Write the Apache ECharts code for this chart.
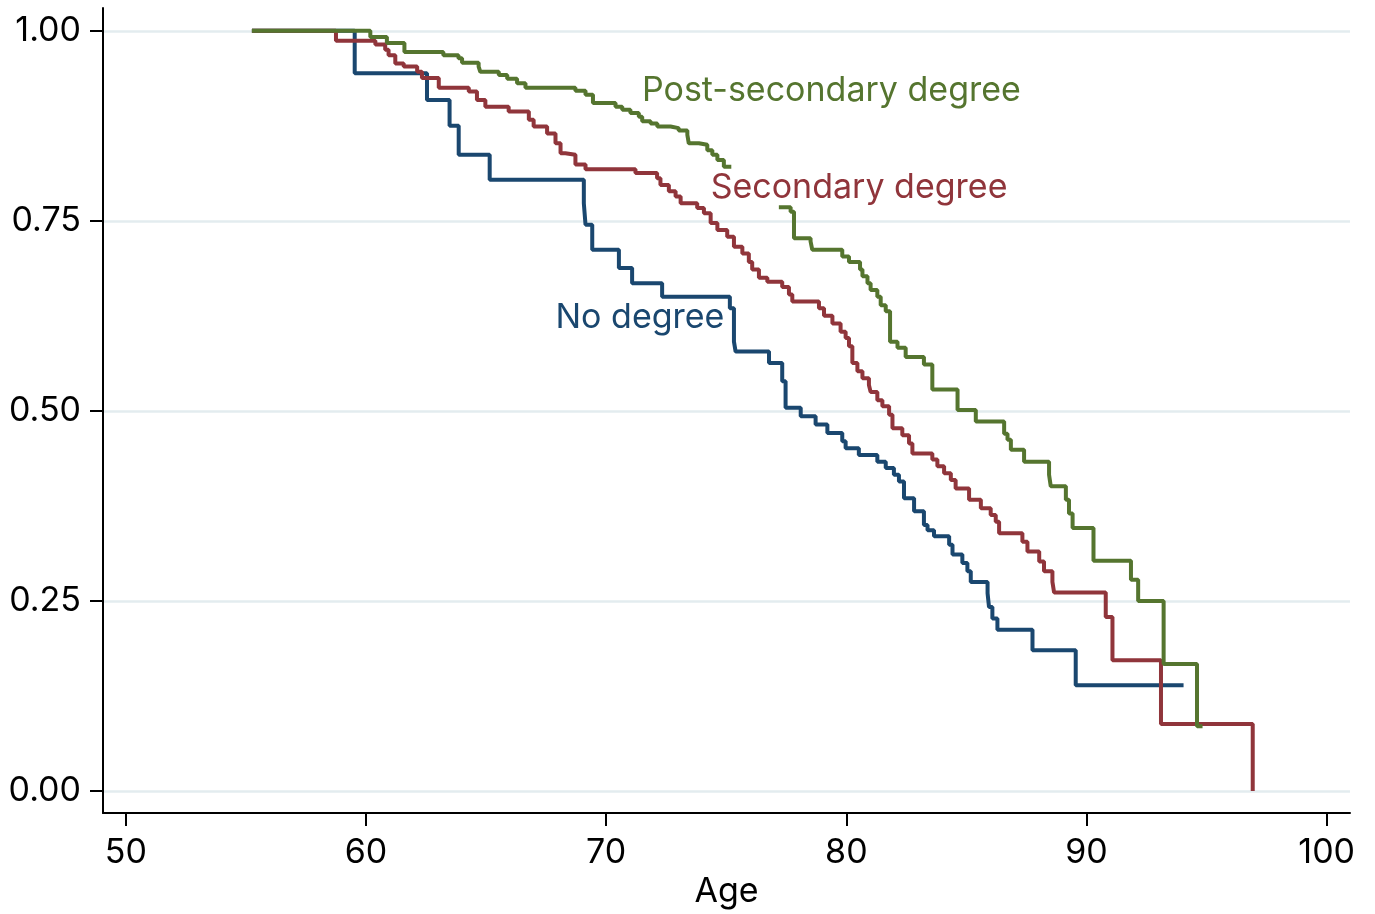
<!DOCTYPE html>
<html>
<head>
<meta charset="utf-8">
<script src="https://cdn.jsdelivr.net/npm/echarts@6/dist/echarts.min.js"></script>
<style>
  html, body { margin: 0; padding: 0; background: #fff; }
  #chart { width: 1375px; height: 914px; }
</style>
</head>
<body>
<div id="chart"></div>
<script>
// Kaplan-Meier curves: [age, survival] at each drop
const noDegree = [
  [55.25, 1.0], [59.53, 0.944], [62.54, 0.909], [63.48, 0.875], [63.86, 0.837],
  [65.15, 0.804], [69.07, 0.773], [69.14, 0.745], [69.42, 0.712], [70.53, 0.688],
  [71.08, 0.668], [72.33, 0.650], [75.15, 0.635], [75.32, 0.591], [75.39, 0.578],
  [76.78, 0.563], [77.33, 0.539], [77.47, 0.504], [78.10, 0.493], [78.72, 0.482],
  [79.21, 0.471], [79.83, 0.460], [79.97, 0.451], [80.52, 0.442], [81.29, 0.433],
  [81.64, 0.425], [81.98, 0.416], [82.19, 0.407], [82.40, 0.385], [82.82, 0.368],
  [83.23, 0.350], [83.38, 0.343], [83.65, 0.335], [84.28, 0.324], [84.42, 0.311],
  [84.83, 0.300], [85.04, 0.289], [85.18, 0.275], [85.88, 0.260], [85.94, 0.242],
  [86.08, 0.227], [86.29, 0.212], [87.75, 0.185], [89.55, 0.139], [94.04, 0.139]
];

const secondary = [
  [55.25, 1.0], [58.75, 0.987], [60.39, 0.982], [60.80, 0.975], [60.94, 0.968],
  [61.22, 0.957], [61.57, 0.953], [62.13, 0.946], [62.33, 0.938], [63.03, 0.925],
  [64.28, 0.920], [64.62, 0.909], [64.97, 0.900], [65.94, 0.894], [66.78, 0.883],
  [66.98, 0.874], [67.54, 0.865], [67.89, 0.852], [68.10, 0.839], [68.30, 0.837],
  [68.72, 0.824], [69.14, 0.818], [71.22, 0.813], [72.12, 0.806], [72.26, 0.797],
  [72.61, 0.789], [72.89, 0.782], [73.10, 0.773], [73.79, 0.767], [74.07, 0.760],
  [74.35, 0.747], [74.63, 0.738], [75.04, 0.729], [75.32, 0.716], [75.67, 0.707],
  [75.94, 0.696], [76.08, 0.686], [76.36, 0.675], [76.71, 0.670], [77.33, 0.663],
  [77.61, 0.653], [77.75, 0.644], [78.86, 0.635], [79.07, 0.625], [79.42, 0.615],
  [79.76, 0.604], [79.97, 0.596], [80.11, 0.585], [80.25, 0.563], [80.46, 0.552],
  [80.67, 0.543], [80.94, 0.534], [81.01, 0.525], [81.29, 0.514], [81.50, 0.506],
  [81.78, 0.495], [81.92, 0.477], [82.33, 0.468], [82.61, 0.457], [82.75, 0.444],
  [83.58, 0.436], [83.79, 0.427], [84.07, 0.418], [84.35, 0.409], [84.55, 0.398],
  [85.11, 0.383], [85.60, 0.372], [86.01, 0.363], [86.22, 0.354], [86.36, 0.339],
  [87.33, 0.328], [87.54, 0.315], [88.03, 0.302], [88.23, 0.289], [88.58, 0.275],
  [88.65, 0.261], [90.80, 0.229], [91.08, 0.172], [93.10, 0.088], [96.92, 0.0]
];

const postSecondary = [
  [55.25, 1.0], [60.18, 0.992], [60.87, 0.984], [61.60, 0.972], [63.22, 0.968],
  [63.85, 0.964], [64.00, 0.958], [64.69, 0.953], [64.76, 0.946], [65.53, 0.942],
  [65.88, 0.937], [66.29, 0.931], [66.64, 0.925], [68.72, 0.921], [69.14, 0.916],
  [69.45, 0.905], [70.39, 0.900], [70.67, 0.896], [71.01, 0.892], [71.36, 0.887],
  [71.50, 0.881], [71.85, 0.878], [72.13, 0.874], [72.68, 0.872], [73.02, 0.869],
  [73.38, 0.863], [73.44, 0.852], [73.86, 0.850], [74.21, 0.843], [74.42, 0.837],
  [74.63, 0.830], [74.90, 0.821], [75.21, 0.821],
  [75.21, '-'],
  [77.19, 0.768], [77.68, 0.762], [77.82, 0.727], [78.51, 0.723], [78.58, 0.712],
  [79.83, 0.703], [80.11, 0.696], [80.57, 0.686], [80.67, 0.677], [80.88, 0.668],
  [81.01, 0.659], [81.29, 0.650], [81.43, 0.639], [81.64, 0.631], [81.82, 0.591],
  [82.13, 0.583], [82.47, 0.571], [83.23, 0.561], [83.58, 0.528], [84.63, 0.501],
  [85.39, 0.486], [86.57, 0.470], [86.71, 0.462], [86.85, 0.449], [87.40, 0.433],
  [88.44, 0.416], [88.51, 0.401], [89.14, 0.383], [89.27, 0.365], [89.42, 0.346],
  [90.29, 0.303], [91.85, 0.278], [92.15, 0.250], [93.21, 0.167], [94.60, 0.085],
  [94.83, 0.085]
];

const xTicks = [50, 60, 70, 80, 90, 100];
const yTicks = [0, 0.25, 0.5, 0.75, 1];
const curveNames = ["No degree", "Secondary degree", "Post-secondary degree"];

const FONT = "Inter, 'Liberation Sans', Arial, sans-serif";
const NAVY = "#1a476f";
const MAROON = "#90353b";
const GREEN = "#55752f";

const chart = echarts.init(document.getElementById("chart"), null, { renderer: "canvas" });

function stepSeries(name, data, color, z) {
  return {
    name: name,
    type: "line",
    data: data,
    step: "end",
    showSymbol: false,
    connectNulls: false,
    z: z,
    lineStyle: { color: color, width: 4 },
    emphasis: { disabled: true },
    silent: true
  };
}

function labelSeries(name, point, color) {
  return {
    type: "scatter",
    data: [point],
    symbolSize: 0,
    silent: true,
    z: 10,
    itemStyle: { opacity: 1 },
    label: {
      show: true,
      position: "right",
      distance: 0,
      formatter: name,
      color: color,
      opacity: 1,
      fontSize: 34,
      fontFamily: FONT
    }
  };
}

chart.setOption({
  animation: false,
  backgroundColor: "#fff",
  grid: { left: 103, right: 25, top: 8, bottom: 101, containLabel: false },
  xAxis: {
    type: "value",
    min: 49.05,
    max: 100.97,
    name: "Age",
    nameLocation: "middle",
    nameGap: 59,
    nameTextStyle: { color: "#000", fontSize: 34, fontFamily: FONT },
    axisLine: { show: true, onZero: false, lineStyle: { color: "#000", width: 2 } },
    axisTick: { show: true, customValues: xTicks, length: 13, lineStyle: { color: "#000", width: 2 } },
    axisLabel: { customValues: xTicks, color: "#000", fontSize: 34, fontFamily: FONT, margin: 23 },
    splitLine: { show: false }
  },
  yAxis: {
    type: "value",
    min: -0.029,
    max: 1.03,
    axisLine: { show: true, onZero: false, lineStyle: { color: "#000", width: 2 } },
    axisTick: { show: true, customValues: yTicks, length: 13, lineStyle: { color: "#000", width: 2 } },
    axisLabel: {
      customValues: yTicks,
      color: "#000",
      fontSize: 34,
      fontFamily: FONT,
      margin: 22,
      formatter: v => v.toFixed(2)
    },
    splitLine: { show: false }
  },
  series: [
    {
      type: "line",
      data: [],
      z: 0,
      silent: true,
      markLine: {
        z: 0,
        silent: true,
        symbol: "none",
        animation: false,
        label: { show: false },
        lineStyle: { color: "#e3ecef", width: 2.5, type: "solid" },
        data: yTicks.map(v => ({ yAxis: v }))
      }
    },
    stepSeries(curveNames[0], noDegree, NAVY, 2),
    stepSeries(curveNames[1], secondary, MAROON, 3),
    stepSeries(curveNames[2], postSecondary, GREEN, 4),
    labelSeries(curveNames[0], [67.89, 0.622], NAVY),
    labelSeries(curveNames[1], [74.35, 0.793], MAROON),
    labelSeries(curveNames[2], [71.49, 0.921], GREEN)
  ]
});
</script>
</body>
</html>
